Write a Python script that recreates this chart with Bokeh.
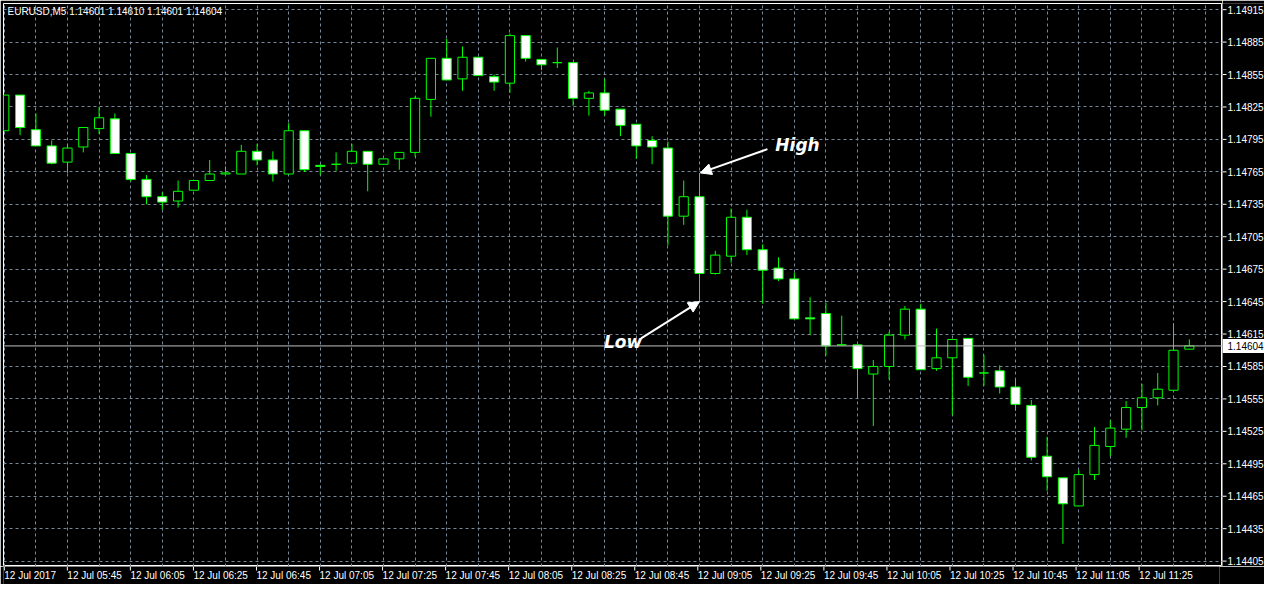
from bokeh.plotting import figure
from bokeh.layouts import column, row
from bokeh.models import (ColumnDataSource, FixedTicker, Label, Arrow, NormalHead,
                          Span, Range1d)
from bokeh.core.properties import value
from bokeh.embed import file_html
from bokeh.resources import INLINE

symbol = "EURUSD,M5"

opens = [1.14803, 1.14836, 1.14804, 1.14789, 1.14774, 1.14788, 1.14805, 1.14814, 1.14782, 1.14758,
         1.14742, 1.14738, 1.14748, 1.14757, 1.14763, 1.14763, 1.14784, 1.14776, 1.14763, 1.14803,
         1.14771, 1.14772, 1.14773, 1.14784, 1.14772, 1.14777, 1.14783, 1.14832, 1.14870, 1.14851,
         1.14871, 1.14853, 1.14847, 1.14891, 1.14869, 1.14866, 1.14866, 1.14833, 1.14838, 1.14823,
         1.14809, 1.14794, 1.14787, 1.14724, 1.14742, 1.14671, 1.14687, 1.14723, 1.14693, 1.14676,
         1.14666, 1.14630, 1.14634, 1.14605, 1.14605, 1.14578, 1.14585, 1.14614, 1.14638, 1.14583,
         1.14593, 1.14611, 1.14579, 1.14581, 1.14566, 1.14549, 1.14502, 1.14482, 1.14456, 1.14485,
         1.14511, 1.14527, 1.14547, 1.14556, 1.14563, 1.14601]

highs = [1.14836, 1.14836, 1.14819, 1.14794, 1.14791, 1.14806, 1.14825, 1.14819, 1.14782, 1.14762,
         1.14746, 1.14757, 1.14757, 1.14776, 1.14770, 1.14790, 1.14791, 1.14784, 1.14810, 1.14803,
         1.14772, 1.14783, 1.14791, 1.14784, 1.14777, 1.14783, 1.14835, 1.14870, 1.14888, 1.14881,
         1.14871, 1.14855, 1.14893, 1.14891, 1.14869, 1.14880, 1.14866, 1.14840, 1.14851, 1.14823,
         1.14809, 1.14798, 1.14793, 1.14757, 1.14764, 1.14692, 1.14731, 1.14730, 1.14698, 1.14686,
         1.14672, 1.14649, 1.14644, 1.14632, 1.14605, 1.14591, 1.14617, 1.14641, 1.14643, 1.14620,
         1.14610, 1.14611, 1.14596, 1.14586, 1.14573, 1.14554, 1.14520, 1.14482, 1.14489, 1.14529,
         1.14535, 1.14553, 1.14569, 1.14579, 1.14625, 1.14610]

lows = [1.14803, 1.14799, 1.14789, 1.14772, 1.14764, 1.14783, 1.14800, 1.14782, 1.14756, 1.14735,
        1.14730, 1.14732, 1.14748, 1.14757, 1.14763, 1.14763, 1.14771, 1.14756, 1.14763, 1.14765,
        1.14762, 1.14766, 1.14773, 1.14747, 1.14772, 1.14767, 1.14779, 1.14816, 1.14850, 1.14840,
        1.14854, 1.14840, 1.14838, 1.14867, 1.14859, 1.14861, 1.14826, 1.14817, 1.14817, 1.14798,
        1.14777, 1.14772, 1.14697, 1.14716, 1.14645, 1.14670, 1.14681, 1.14688, 1.14643, 1.14664,
        1.14629, 1.14614, 1.14595, 1.14605, 1.14556, 1.14530, 1.14573, 1.14610, 1.14582, 1.14581,
        1.14540, 1.14567, 1.14567, 1.14560, 1.14544, 1.14498, 1.14470, 1.14421, 1.14456, 1.14480,
        1.14502, 1.14519, 1.14526, 1.14549, 1.14563, 1.14601]

closes = [1.14836, 1.14806, 1.14789, 1.14773, 1.14787, 1.14806, 1.14815, 1.14782, 1.14758, 1.14742,
          1.14737, 1.14747, 1.14757, 1.14763, 1.14764, 1.14784, 1.14776, 1.14763, 1.14803, 1.14767,
          1.14770, 1.14772, 1.14784, 1.14772, 1.14777, 1.14783, 1.14833, 1.14870, 1.14850, 1.14871,
          1.14854, 1.14848, 1.14891, 1.14870, 1.14864, 1.14866, 1.14833, 1.14838, 1.14822, 1.14808,
          1.14789, 1.14788, 1.14724, 1.14742, 1.14671, 1.14688, 1.14723, 1.14693, 1.14674, 1.14666,
          1.14629, 1.14629, 1.14604, 1.14605, 1.14583, 1.14585, 1.14614, 1.14638, 1.14582, 1.14593,
          1.14610, 1.14575, 1.14579, 1.14566, 1.14550, 1.14501, 1.14483, 1.14458, 1.14485, 1.14512,
          1.14528, 1.14547, 1.14556, 1.14564, 1.14600, 1.14604]

time_tick_bars = [0, 4, 8, 12, 16, 20, 24, 28, 32, 36, 40, 44, 48, 52, 56, 60, 64, 68, 72]
time_tick_labels = ["12 Jul 2017", "12 Jul 05:45", "12 Jul 06:05", "12 Jul 06:25", "12 Jul 06:45",
                    "12 Jul 07:05", "12 Jul 07:25", "12 Jul 07:45", "12 Jul 08:05", "12 Jul 08:25",
                    "12 Jul 08:45", "12 Jul 09:05", "12 Jul 09:25", "12 Jul 09:45", "12 Jul 10:05",
                    "12 Jul 10:25", "12 Jul 10:45", "12 Jul 11:05", "12 Jul 11:25"]
price_ticks = [1.14405, 1.14435, 1.14465, 1.14495, 1.14525, 1.14555, 1.14585, 1.14615, 1.14645,
               1.14675, 1.14705, 1.14735, 1.14765, 1.14795, 1.14825, 1.14855, 1.14885, 1.14915]

marked_bar = 44  # candle annotated with High / Low

GREEN = "#00ff00"
GRID = "#778899"
FONT = "Liberation Sans"

MAIN_W, MAIN_H = 1222, 566
AXIS_W, AXIS_H = 42, 18

n = len(opens)
xs = list(range(n))
body_top = [max(o, c) for o, c in zip(opens, closes)]
body_bot = [min(o, c) for o, c in zip(opens, closes)]
fills = ["white" if c < o else "black" for o, c in zip(opens, closes)]
src = ColumnDataSource(dict(x=xs, open=opens, high=highs, low=lows, close=closes,
                            top=body_top, bottom=body_bot, fill=fills))

x_rng = Range1d(-0.05, 77.1)
y_rng = Range1d(1.14400, 1.149207)

# ---------------- main price pane ----------------
p = figure(width=MAIN_W, height=MAIN_H, x_range=x_rng, y_range=y_rng,
           output_backend="svg", toolbar_location=None,
           x_axis_location=None, y_axis_location=None,
           background_fill_color="black", border_fill_color="black",
           min_border_left=3, min_border_top=3, min_border_bottom=0, min_border_right=0,
           outline_line_color="white", outline_line_width=1)

p.xgrid.ticker = FixedTicker(ticks=list(range(0, 78, 2)))
p.ygrid.ticker = FixedTicker(ticks=price_ticks)
for g in (p.xgrid, p.ygrid):
    g.grid_line_color = GRID
    g.grid_line_dash = "3 3"
    g.grid_line_width = 1

p.segment(x0="x", y0="low", x1="x", y1="high", source=src, line_color=GREEN, line_width=1)
p.vbar(x="x", width=0.58, top="top", bottom="bottom", source=src,
       fill_color="fill", line_color=GREEN, line_width=1)

last = closes[-1]
p.add_layout(Span(location=last, dimension="width", line_color="#c0c0c0", line_width=1))

p.add_layout(Label(x=-0.05, y=1.149207, x_offset=4, y_offset=-8,
                   text=f"{symbol}  {opens[-1]:.5f} {highs[-1]:.5f} {lows[-1]:.5f} {closes[-1]:.5f}",
                   text_color="white", text_baseline="middle", text_font=FONT,
                   text_font_size="10px"))

p.add_layout(Arrow(end=NormalHead(size=11, fill_color="white", line_color="white"),
                   x_start=48.3, y_start=1.14786, x_end=marked_bar + 0.05, y_end=highs[marked_bar],
                   line_color="white", line_width=2))
p.add_layout(Arrow(end=NormalHead(size=11, fill_color="white", line_color="white"),
                   x_start=40.3, y_start=1.14611, x_end=marked_bar, y_end=lows[marked_bar],
                   line_color="white", line_width=2))
p.add_layout(Label(x=48.8, y=1.14790, text="High", text_color="white",
                   text_font="DejaVu Sans", text_font_style="bold italic",
                   text_font_size="17px", text_baseline="middle"))
p.add_layout(Label(x=37.95, y=1.14608, text="Low", text_color="white",
                   text_font="DejaVu Sans", text_font_style="bold italic",
                   text_font_size="17px", text_baseline="middle"))

# ---------------- right price scale ----------------
r = figure(width=AXIS_W, height=MAIN_H, x_range=Range1d(0, AXIS_W), y_range=y_rng,
           output_backend="svg", toolbar_location=None,
           x_axis_location=None, y_axis_location=None,
           background_fill_color="black", border_fill_color="black",
           min_border_left=0, min_border_top=3, min_border_bottom=0, min_border_right=0,
           outline_line_color=None)
r.grid.visible = False
psrc = ColumnDataSource(dict(y=price_ticks, label=[f"{t:.5f}" for t in price_ticks]))
r.segment(x0=0, y0="y", x1=4, y1="y", source=psrc, line_color="white", line_width=1)
r.text(x=5, y="y", text="label", source=psrc, text_color="white",
       text_font=value(FONT), text_font_size=value("10px"),
       text_align="left", text_baseline="middle")
r.rect(x=AXIS_W / 2, y=last, width=AXIS_W, height=14, height_units="screen",
       fill_color="white", line_color=None)
r.text(x=[5], y=[last], text=[f"{last:.5f}"], text_color="black",
       text_font=value(FONT), text_font_size=value("10px"),
       text_align="left", text_baseline="middle")

# ---------------- bottom time scale ----------------
b = figure(width=MAIN_W + AXIS_W, height=AXIS_H, x_range=x_rng, y_range=Range1d(0, AXIS_H),
           output_backend="svg", toolbar_location=None,
           x_axis_location=None, y_axis_location=None,
           background_fill_color="black", border_fill_color="black",
           min_border_left=3, min_border_top=0, min_border_bottom=0, min_border_right=AXIS_W + 3,
           outline_line_color=None)
b.grid.visible = False
tsrc = ColumnDataSource(dict(x=time_tick_bars, label=time_tick_labels))
b.segment(x0="x", y0=AXIS_H, x1="x", y1=AXIS_H - 4, source=tsrc, line_color="white", line_width=1)
b.text(x="x", y=AXIS_H - 3, text="label", source=tsrc, text_color="white",
       text_font=value(FONT), text_font_size=value("10px"),
       text_align="left", text_baseline="top")

layout = column(row(p, r), b)
open("out.html", "w").write(file_html(layout, INLINE))
